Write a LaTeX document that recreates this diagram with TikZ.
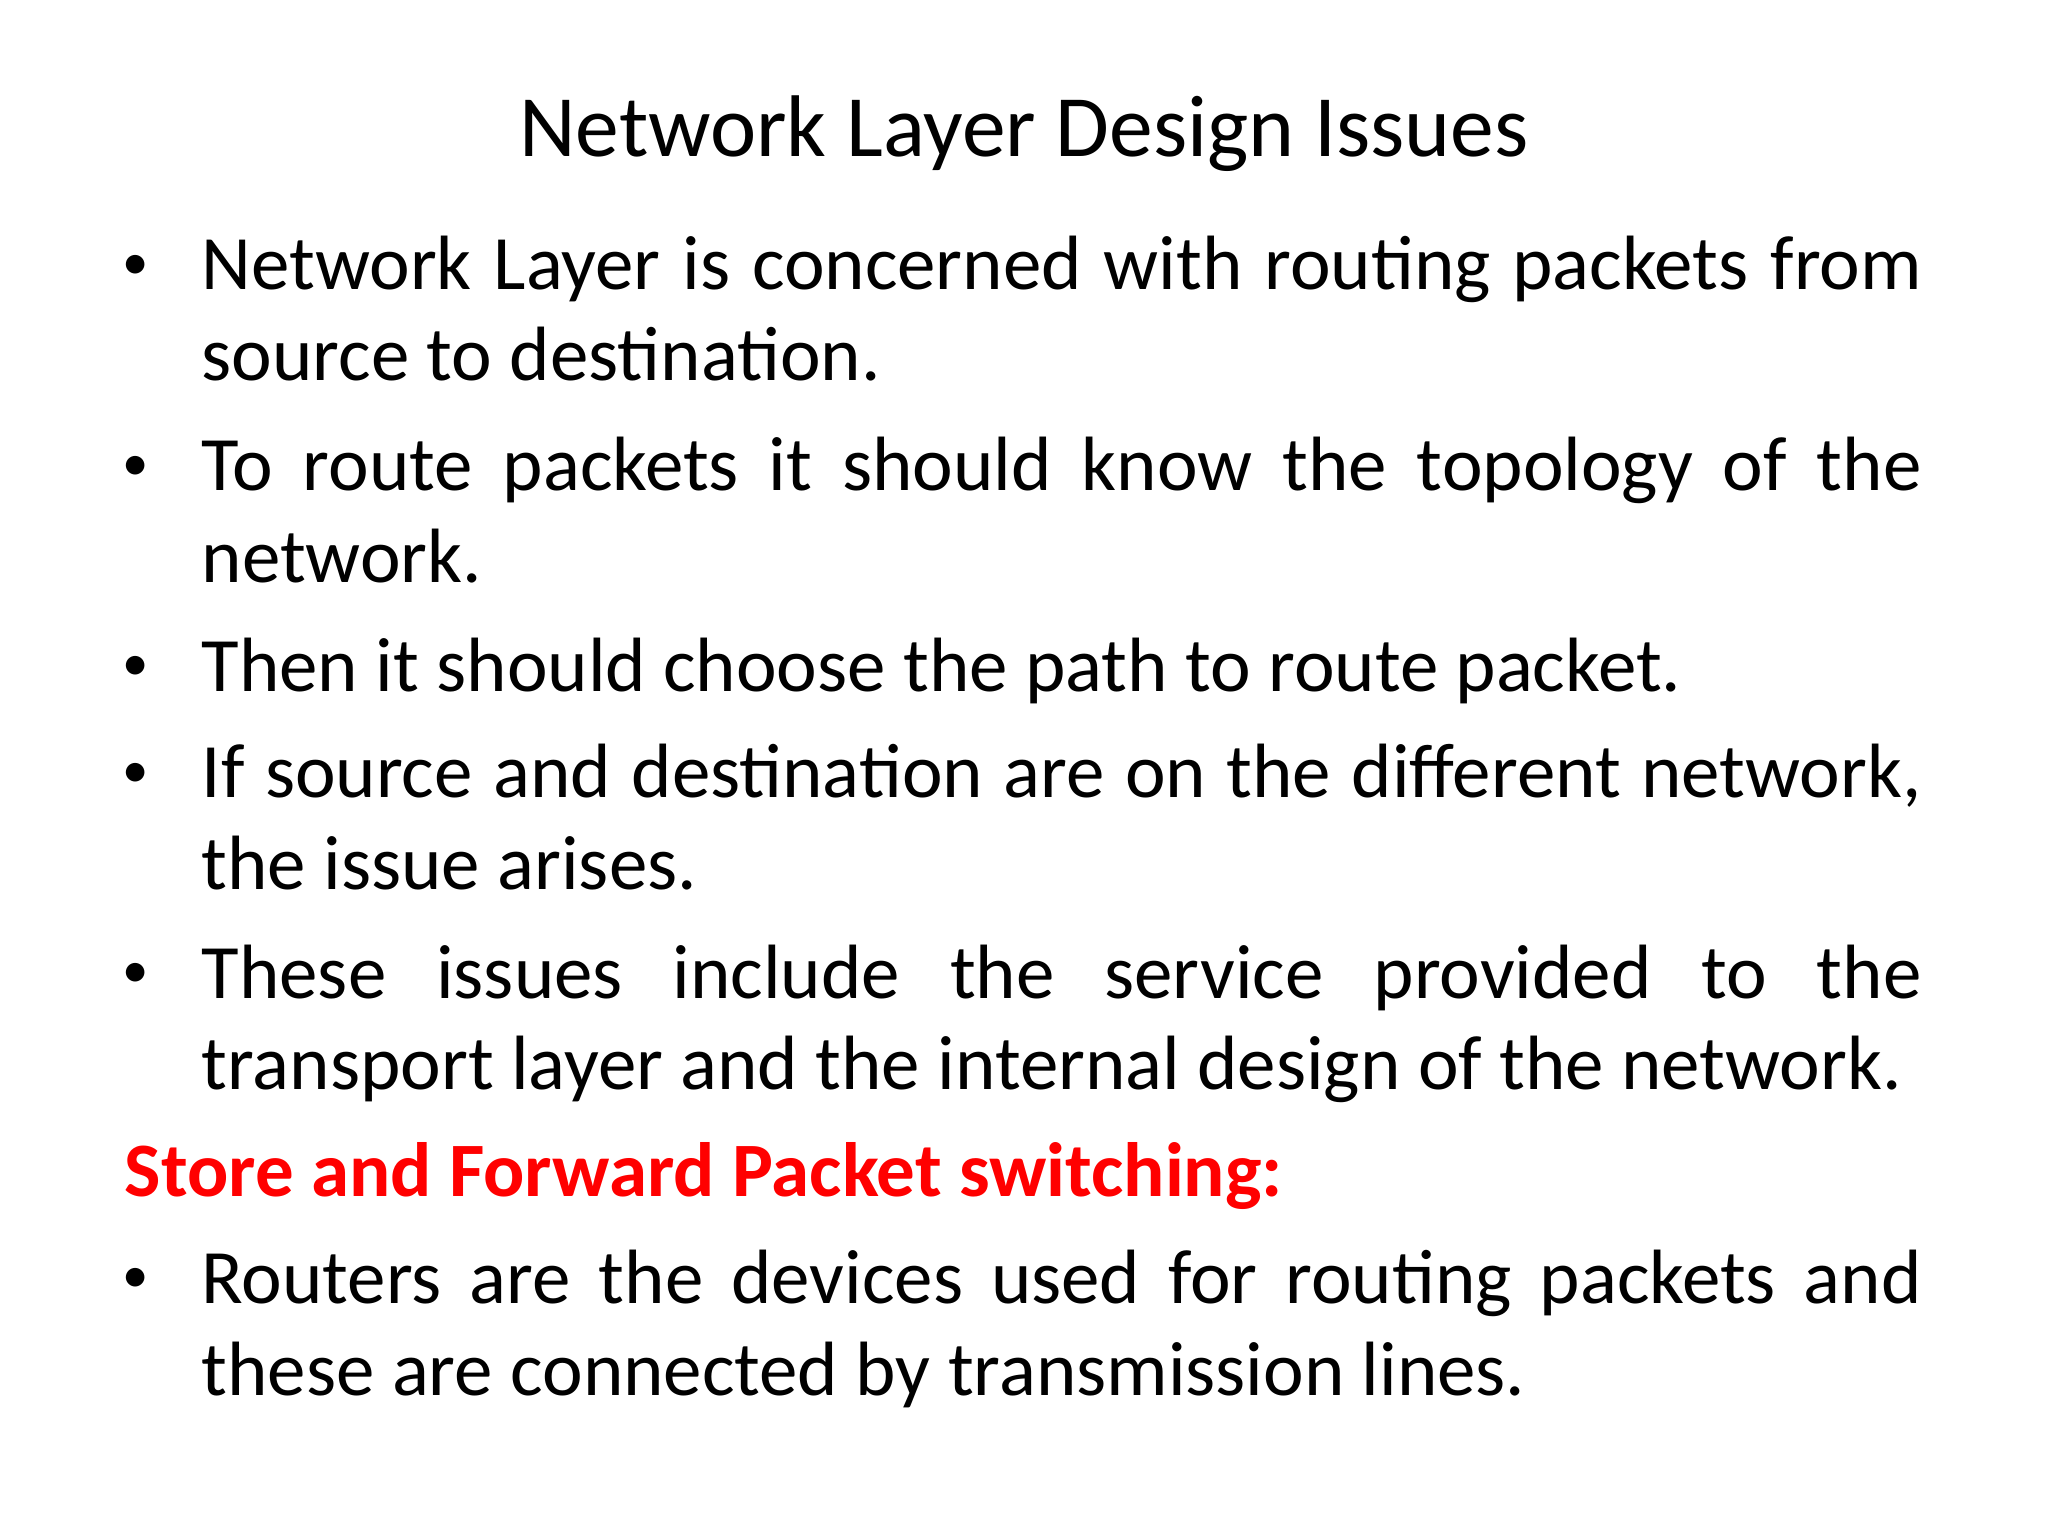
\documentclass[tikz,border=0pt]{standalone}
\usepackage{fontspec}
\setmainfont{Carlito}
\definecolor{slidered}{RGB}{255,0,0}
\begin{document}
\begin{tikzpicture}[x=1cm,y=1cm,
  body/.style={anchor=base west,inner sep=0pt,font=\fontsize{21.9}{26}\selectfont},
  bul/.style={anchor=base,inner sep=0pt,font=\fontsize{15}{18}\selectfont}]
\useasboundingbox (0,0) rectangle (20.48,-15.36);
\node[anchor=base,inner sep=0pt,font=\fontsize{24.9}{30}\selectfont] (title) at (10.24,-1.57) {Network Layer Design Issues};
\def\W{17.2cm}
\def\B{\raisebox{3pt}{•}}
\node[bul] (b1) at (1.36,-2.90) {\B};
\node[body] (l1) at (2.01,-2.90) {\makebox[\W][s]{Network Layer is concerned with routing packets from}};
\node[body] (l2) at (2.01,-3.81) {source to destination.};
\node[bul] (b2) at (1.36,-4.91) {\B};
\node[body] (l3) at (2.01,-4.91) {\makebox[\W][s]{To route packets it should know the topology of the}};
\node[body] (l4) at (2.01,-5.82) {network.};
\node[bul] (b3) at (1.36,-6.91) {\B};
\node[body] (l5) at (2.01,-6.91) {Then it should choose the path to route packet.};
\node[bul] (b4) at (1.36,-7.98) {\B};
\node[body] (l6) at (2.01,-7.98) {\makebox[\W][s]{If source and destination are on the different network,}};
\node[body] (l7) at (2.01,-8.89) {the issue arises.};
\node[bul] (b5) at (1.36,-9.98) {\B};
\node[body] (l8) at (2.01,-9.98) {\makebox[\W][s]{These issues include the service provided to the}};
\node[body] (l9) at (2.01,-10.89) {transport layer and the internal design of the network.};
\node[body,text=slidered,font=\fontsize{21.9}{26}\selectfont\bfseries] (h) at (1.24,-11.96) {Store and Forward Packet switching:};
\node[bul] (b6) at (1.36,-13.03) {\B};
\node[body] (l10) at (2.01,-13.03) {\makebox[\W][s]{Routers are the devices used for routing packets and}};
\node[body] (l11) at (2.01,-13.95) {these are connected by transmission lines.};
\end{tikzpicture}
\end{document}
